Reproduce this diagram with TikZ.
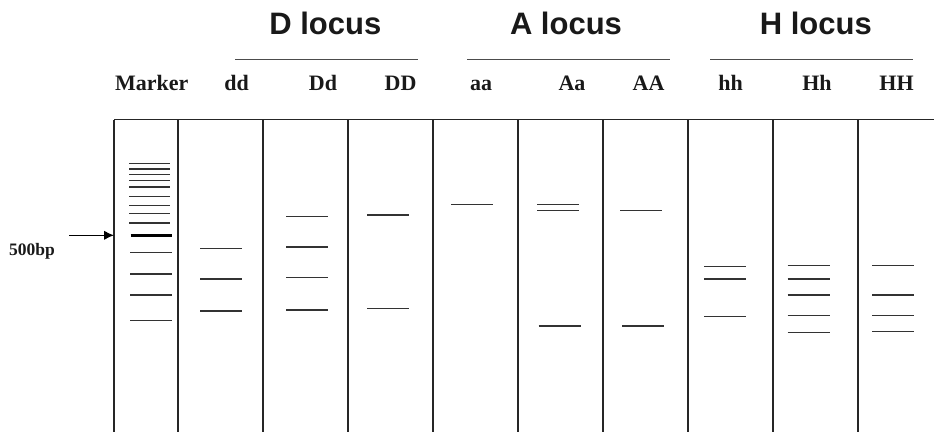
\documentclass[tikz,border=0pt]{standalone}
\usepackage{fontspec}
\setmainfont{Liberation Serif}
\newfontfamily\headfont{Liberation Sans}
\usetikzlibrary{arrows.meta}
\begin{document}
\begin{tikzpicture}[x=1pt,y=-1pt,
  lane/.style={line width=1.7pt, black!85},
  band/.style={line width=1.4pt, black!80},
  rule/.style={line width=1.1pt, black!70},
  geno/.style={anchor=base, inner sep=0pt, font=\fontsize{22}{22}\selectfont\bfseries, text=black!90},
  head/.style={anchor=base, inner sep=0pt, font=\fontsize{31}{31}\selectfont\headfont\bfseries, text=black!90},
  sizelab/.style={anchor=base, inner sep=0pt, font=\fontsize{17.5}{17.5}\selectfont\bfseries, text=black!90},
  pointer/.style={line width=1.3pt, -{Latex[length=10pt,width=9.5pt]}}]
\useasboundingbox (0,0) rectangle (934,432);
% gel frame
\draw[lane] (114,119.5) -- (934,119.5);
\foreach \x in {114,178,263,348,433,518,603,688,773,858}
  \draw[lane] (\x,119.5) -- (\x,432);
% headings
\node[head] (hD) at (325.3,34.7) {D locus};
\node[head] (hA) at (566,34.7) {A locus};
\node[head] (hH) at (815.8,34.7) {H locus};
\draw[rule] (235,59.3) -- (417.7,59.3);
\draw[rule] (467,59.3) -- (670,59.3);
\draw[rule] (710,59.3) -- (913,59.3);
% genotype labels
\node[geno] (lM) at (151.7,90) {Marker};
\node[geno] (ldd) at (236.5,90) {dd};
\node[geno] (lDd) at (323,90) {Dd};
\node[geno] (lDD) at (400.5,90) {DD};
\node[geno] (laa) at (481,90) {aa};
\node[geno] (lAa) at (572,90) {Aa};
\node[geno] (lAA) at (648.5,90) {AA};
\node[geno] (lhh) at (730.5,90) {hh};
\node[geno] (lHh) at (817,90) {Hh};
\node[geno] (lHH) at (896.5,90) {HH};
% marker lane
\foreach \y in {163.3,169,174.7,180.3,196.3,205.7,213.7,223}
  \draw[band] (129,\y) -- (170,\y);
\draw[band, line width=2.2pt] (129,187) -- (170,187);
\draw[band, line width=3.4pt, black] (130.5,235.3) -- (171.5,235.3);
\foreach \y in {252.7,274,295,320.7}
  \draw[band] (130,\y) -- (171.7,\y);
% 500bp pointer
\node[sizelab] (bp) at (32,255.7) {500bp};
\coordinate (ptail) at (69,235.3);
\coordinate (phead) at (114,235.3);
\draw[pointer] (ptail) -- (phead);
% dd
\foreach \y in {248.3,279,311}
  \draw[band] (200,\y) -- (242,\y);
% Dd
\foreach \y in {216.7,247,277.7,310}
  \draw[band] (286,\y) -- (328,\y);
% DD
\foreach \y in {215,308.7}
  \draw[band] (367.3,\y) -- (409,\y);
% aa
\draw[band] (451,204.3) -- (492.7,204.3);
% Aa
\foreach \y in {204.3,210.7}
  \draw[band] (537,\y) -- (578.7,\y);
\draw[band] (538.7,326) -- (580.7,326);
% AA
\draw[band] (620.3,210.7) -- (662,210.7);
\draw[band] (622,326) -- (664,326);
% hh
\foreach \y in {266.7,279,316.7}
  \draw[band] (704,\y) -- (745.7,\y);
% Hh
\foreach \y in {265.7,279,295,315.3,332.7}
  \draw[band] (787.7,\y) -- (829.7,\y);
% HH
\foreach \y in {265.7,295,315.3,331.3}
  \draw[band] (872,\y) -- (913.7,\y);
\end{tikzpicture}
\end{document}
